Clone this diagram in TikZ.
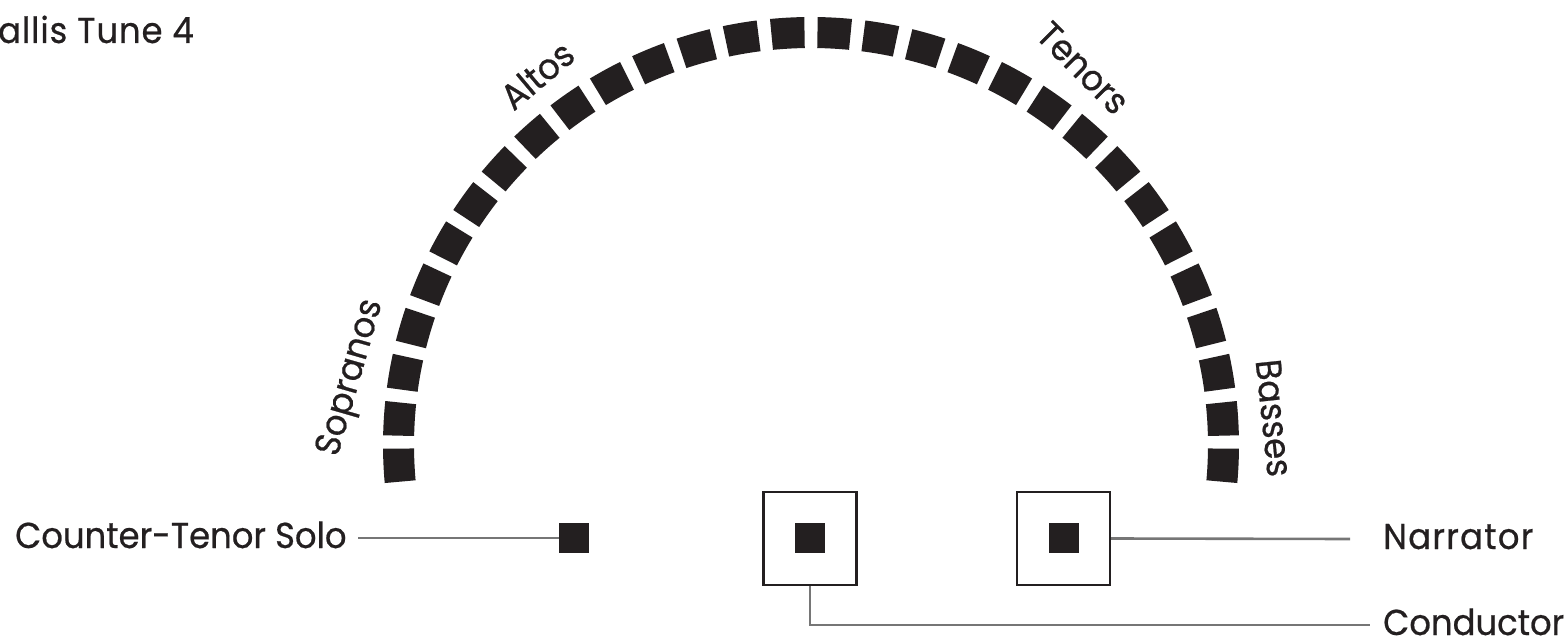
\documentclass[tikz,border=0pt]{standalone}
\usepackage{fontspec}
\setmainfont{Poppins}[FakeStretch=0.94, FakeBold=0.6]
\definecolor{ink}{HTML}{231F20}
\definecolor{wiregray}{HTML}{767676}
\begin{document}
\begin{tikzpicture}[x=1pt,y=-1pt,
  lbl/.style={font=\fontsize{36}{40}\selectfont, text=ink, inner sep=0pt},
  spaced/.style={font=\fontsize{36}{40}\selectfont\addfontfeatures{LetterSpace=#1}},
  seat/.style={fill=ink, draw=none, minimum width=30pt, minimum height=30pt, inner sep=0pt},
  podium/.style={draw=ink, line width=2.2pt, fill=white, minimum width=93pt, minimum height=93pt, inner sep=0pt},
  wire/.style={draw=wiregray, line width=2.6pt},
  chair/.style={fill=ink}]
\useasboundingbox (0,0) rectangle (1567,639);

% choir arc
\begin{scope}[shift={(811,445)}]
  \foreach \k in {0,...,14} {
    \foreach \s in {-1,1} {
      \pgfmathsetmacro\ca{-90+\s*(3.2+6.4*\k)-2.3}
      \pgfmathsetmacro\cb{\ca+4.6}
      \fill[chair] (\ca:397) arc[start angle=\ca, end angle=\cb, radius=397]
        -- (\cb:428) arc[start angle=\cb, end angle=\ca, radius=428] -- cycle;
    }
  }
\end{scope}

% section labels
\node[lbl, rotate=74] (sop) at (352,378) {Sopranos};
\node[lbl, rotate=40] (alt) at (537,75) {Altos};
\node[lbl, rotate=-45] (ten) at (1083,68) {Tenors};
\node[lbl, rotate=-84] (bas) at (1274,418) {Basses};

% title
\node[lbl, spaced=2.5, anchor=base east] (title) at (194,43) {Tallis Tune 4};

% soloists
\node[seat] (solo) at (574,538) {};
\node[podium] (condbox) at (810,538.5) {};
\node[seat] (cond) at (810,538) {};
\node[podium] (narrbox) at (1063.5,538.5) {};
\node[seat] (narr) at (1064,538) {};

\node[lbl, anchor=base west] (solotxt) at (15,548) {Counter-Tenor Solo};
\node[lbl, spaced=3.5, anchor=base west] (narrtxt) at (1383,549) {Narrator};
\node[lbl, anchor=base west] (condtxt) at (1383,635) {Conductor};

\coordinate (soloend) at (358,538);
\coordinate (narrend) at (1350,539);
\coordinate (condend) at (1370,625);

\draw[wire] (soloend) -- (solo.west);
\draw[wire] (narrbox.east) -- (narrend);
\draw[wire] (condbox.south) |- (condend);
\end{tikzpicture}
\end{document}
